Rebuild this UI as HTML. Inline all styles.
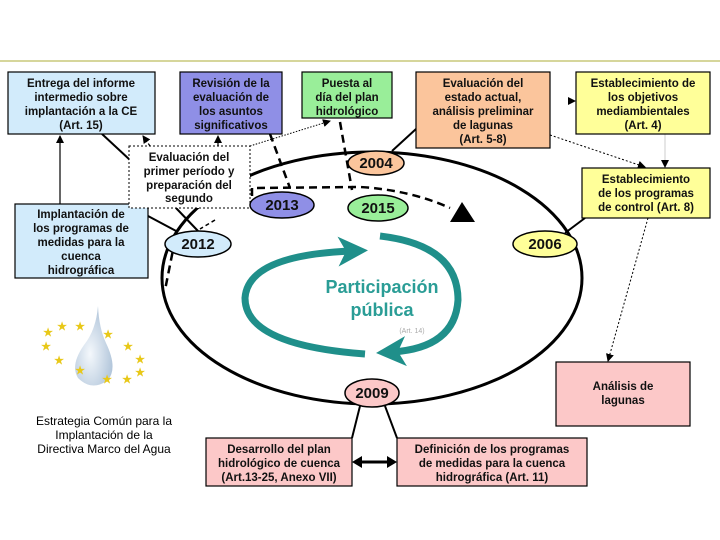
<!DOCTYPE html>
<html><head><meta charset="utf-8"><style>
body{margin:0;background:#fff}
svg{display:block}
text{font-family:"Liberation Sans",sans-serif;font-weight:bold;font-size:11.5px;fill:#111;text-anchor:middle}
.y{font-size:15px}
</style></head><body>
<svg width="720" height="540" viewBox="0 0 720 540">
<defs>
<marker id="a" markerWidth="8" markerHeight="8" refX="7" refY="4" orient="auto" markerUnits="userSpaceOnUse"><path d="M0,0L8,4L0,8z" fill="#000"/></marker>
<marker id="t" markerWidth="30" markerHeight="30" refX="14" refY="15" orient="auto" markerUnits="userSpaceOnUse"><path d="M0,0L30,15L0,30L8,15z" fill="#1f8f8a"/></marker>
<radialGradient id="d" cx="0.4" cy="0.6" r="0.7"><stop offset="0" stop-color="#f4f8fc"/><stop offset="1" stop-color="#a9bfd6"/></radialGradient>
</defs>
<line x1="0" y1="61" x2="720" y2="61" stroke="#c9c97a" stroke-width="1.5"/>

<!-- big ellipse -->
<ellipse cx="372" cy="278" rx="210" ry="126" fill="none" stroke="#000" stroke-width="3"/>

<!-- connectors -->
<line x1="60" y1="204" x2="60" y2="136" stroke="#000" stroke-width="1.2" marker-end="url(#a)"/>
<line x1="102" y1="134" x2="130" y2="160" stroke="#000" stroke-width="2"/>
<line x1="148" y1="216" x2="178" y2="232" stroke="#000" stroke-width="2"/>
<line x1="176" y1="208" x2="198" y2="231" stroke="#000" stroke-width="2"/>
<line x1="150" y1="146" x2="143" y2="136" stroke="#000" stroke-width="1.2" stroke-dasharray="3,2" marker-end="url(#a)"/>
<line x1="218" y1="146" x2="218" y2="136" stroke="#000" stroke-width="1.2" stroke-dasharray="3,2" marker-end="url(#a)"/>
<line x1="250" y1="146" x2="330" y2="121" stroke="#000" stroke-width="1" stroke-dasharray="1.5,1.5" marker-end="url(#a)"/>
<line x1="215" y1="220" x2="200" y2="229" stroke="#000" stroke-width="1.5" stroke-dasharray="4,3"/>
<line x1="175" y1="240" x2="165" y2="290" stroke="#000" stroke-width="2.5" stroke-dasharray="8,5"/>
<line x1="270" y1="134" x2="290" y2="188" stroke="#000" stroke-width="2.5" stroke-dasharray="8,5"/>
<line x1="340" y1="122" x2="352" y2="190" stroke="#000" stroke-width="2.5" stroke-dasharray="8,5"/>
<path d="M252,196 L252,188 L360,187 Q410,190 450,208" fill="none" stroke="#000" stroke-width="2.5" stroke-dasharray="8,5"/>
<path d="M450,222 L462,202 L475,222z" fill="#000"/>
<line x1="392" y1="151" x2="416" y2="129" stroke="#000" stroke-width="2"/>
<line x1="550" y1="135" x2="645" y2="167" stroke="#000" stroke-width="1" stroke-dasharray="2,2" marker-end="url(#a)"/>
<line x1="665" y1="134" x2="665" y2="167" stroke="#ccc" stroke-width="1" marker-end="url(#a)"/>
<path d="M568,97 L576,101 L568,105z" fill="#000"/>
<line x1="565" y1="233" x2="585" y2="218" stroke="#000" stroke-width="2"/>
<line x1="648" y1="218" x2="608" y2="361" stroke="#000" stroke-width="1" stroke-dasharray="2,2" marker-end="url(#a)"/>
<line x1="360" y1="406" x2="352" y2="438" stroke="#000" stroke-width="2"/>
<line x1="385" y1="406" x2="397" y2="438" stroke="#000" stroke-width="2"/>
<line x1="358" y1="462" x2="390" y2="462" stroke="#000" stroke-width="3"/>
<path d="M352,462 L362,456 L362,468z M397,462 L387,456 L387,468z" fill="#000"/>

<!-- teal arrows -->
<path d="M365,354 Q245,345 245,298 Q248,255 352,251" fill="none" stroke="#1f8f8a" stroke-width="7" marker-end="url(#t)"/>
<path d="M380,236 Q458,245 458,300 Q455,348 392,352" fill="none" stroke="#1f8f8a" stroke-width="7" marker-end="url(#t)"/>
<text x="382" y="293" style="fill:#2a9d96;font-size:18px">Participación</text>
<text x="382" y="316" style="fill:#2a9d96;font-size:18px">pública</text>
<text x="412" y="333" style="fill:#aaa;font-size:7px;font-weight:normal">(Art. 14)</text>

<!-- boxes -->
<g stroke="#000" stroke-width="1.2">
<rect x="8" y="72" width="147" height="62" fill="#d2ebfb"/>
<rect x="180" y="72" width="102" height="62" fill="#8f8fe6"/>
<rect x="302" y="72" width="90" height="46" fill="#99ee99"/>
<rect x="416" y="72" width="134" height="76" fill="#fbc59c"/>
<rect x="576" y="72" width="134" height="62" fill="#ffff99"/>
<rect x="582" y="168" width="128" height="50" fill="#ffff99"/>
<rect x="15" y="204" width="133" height="74" fill="#d2ebfb"/>
<rect x="556" y="362" width="134" height="64" fill="#fcc8c8"/>
<rect x="206" y="438" width="146" height="48" fill="#fcc8c8"/>
<rect x="397" y="438" width="190" height="48" fill="#fcc8c8"/>
</g>
<rect x="129" y="146" width="121" height="62" fill="#fff" stroke="#000" stroke-dasharray="2,2"/>

<!-- year ellipses -->
<g stroke="#000" stroke-width="1.5">
<ellipse cx="376" cy="163" rx="28" ry="12" fill="#fbc59c"/>
<ellipse cx="282" cy="205" rx="32" ry="13" fill="#8f8fe6"/>
<ellipse cx="378" cy="208" rx="30" ry="13" fill="#99ee99"/>
<ellipse cx="198" cy="244" rx="33" ry="13" fill="#d2ebfb"/>
<ellipse cx="545" cy="244" rx="32" ry="13" fill="#ffff99"/>
<ellipse cx="372" cy="393" rx="27" ry="14" fill="#fcc8c8"/>
</g>
<text class="y" x="376" y="168">2004</text>
<text class="y" x="282" y="210">2013</text>
<text class="y" x="378" y="213">2015</text>
<text class="y" x="198" y="249">2012</text>
<text class="y" x="545" y="249">2006</text>
<text class="y" x="372" y="398">2009</text>

<!-- box texts -->
<text x="81" y="87">Entrega del informe</text><text x="81" y="101">intermedio sobre</text><text x="81" y="115">implantación a la CE</text><text x="81" y="129">(Art. 15)</text>
<text x="231" y="87">Revisión de la</text><text x="231" y="101">evaluación de</text><text x="231" y="115">los asuntos</text><text x="231" y="129">significativos</text>
<text x="347" y="87">Puesta al</text><text x="347" y="101">día del plan</text><text x="347" y="115">hidrológico</text>
<text x="483" y="87">Evaluación del</text><text x="483" y="101">estado actual,</text><text x="483" y="115">análisis preliminar</text><text x="483" y="129">de lagunas</text><text x="483" y="143">(Art. 5-8)</text>
<text x="643" y="87">Establecimiento de</text><text x="643" y="101">los objetivos</text><text x="643" y="115">mediambientales</text><text x="643" y="129">(Art. 4)</text>
<text x="646" y="183">Establecimiento</text><text x="646" y="197">de los programas</text><text x="646" y="211">de control (Art. 8)</text>
<text x="81" y="218">Implantación de</text><text x="81" y="232">los programas de</text><text x="81" y="246">medidas para la</text><text x="81" y="260">cuenca</text><text x="81" y="274">hidrográfica</text>
<text x="189" y="161">Evaluación del</text><text x="189" y="175">primer período y</text><text x="189" y="189">preparación del</text><text x="189" y="202">segundo</text>
<text x="623" y="390">Análisis de</text><text x="623" y="404">lagunas</text>
<text x="279" y="453">Desarrollo del plan</text><text x="279" y="467">hidrológico de cuenca</text><text x="279" y="481">(Art.13-25, Anexo VII)</text>
<text x="492" y="453">Definición de los programas</text><text x="492" y="467">de medidas para la cuenca</text><text x="492" y="481">hidrográfica (Art. 11)</text>

<!-- logo -->
<path d="M98,306 Q96,330 84,345 Q70,365 78,378 Q92,392 108,380 Q118,368 106,343 Q99,328 98,306z" fill="url(#d)"/>
<g fill="#e8c818" font-size="11" style="font-family:'DejaVu Sans';font-weight:normal">
<text x="48" y="336" style="fill:#e8c818;font-size:11px">★</text><text x="62" y="330" style="fill:#e8c818;font-size:11px">★</text><text x="80" y="330" style="fill:#e8c818;font-size:11px">★</text>
<text x="108" y="338" style="fill:#e8c818;font-size:11px">★</text><text x="128" y="350" style="fill:#e8c818;font-size:11px">★</text><text x="140" y="363" style="fill:#e8c818;font-size:11px">★</text>
<text x="140" y="376" style="fill:#e8c818;font-size:11px">★</text><text x="127" y="383" style="fill:#e8c818;font-size:11px">★</text><text x="107" y="383" style="fill:#e8c818;font-size:11px">★</text>
<text x="80" y="374" style="fill:#e8c818;font-size:11px">★</text><text x="59" y="364" style="fill:#e8c818;font-size:11px">★</text><text x="46" y="350" style="fill:#e8c818;font-size:11px">★</text>
</g>
<text x="104" y="425" style="font-weight:normal;font-size:12px;fill:#000">Estrategia Común para la</text>
<text x="104" y="439" style="font-weight:normal;font-size:12px;fill:#000">Implantación de la</text>
<text x="104" y="453" style="font-weight:normal;font-size:12px;fill:#000">Directiva Marco del Agua</text>
</svg>
</body></html>
